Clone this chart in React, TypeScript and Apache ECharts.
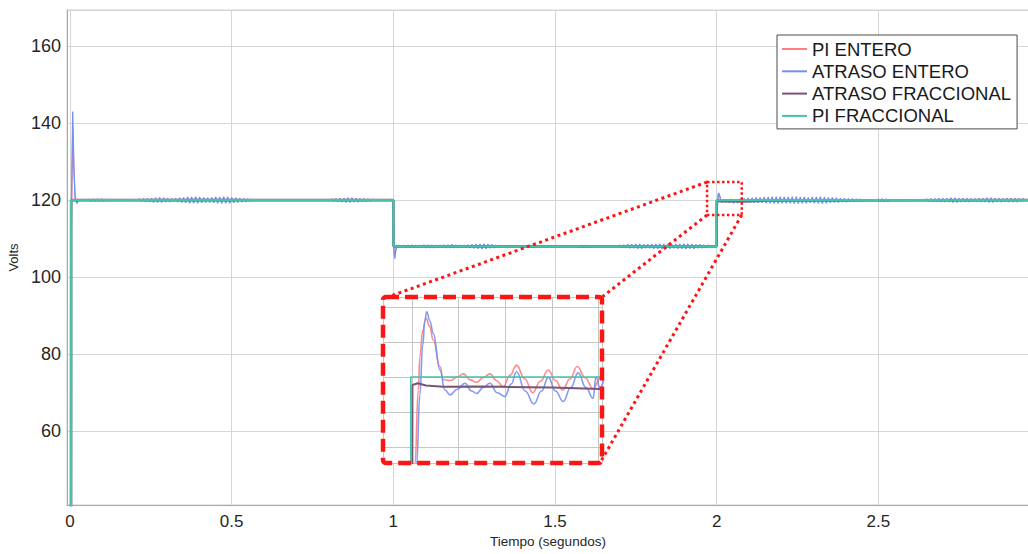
import React, { useEffect, useRef } from "react";
import * as echarts from "echarts";

// ---------- names & colours ----------
const seriesNames = ["PI ENTERO", "ATRASO ENTERO", "ATRASO FRACCIONAL", "PI FRACCIONAL"];
const seriesColors = ["#ff7d7d", "#7490f3", "#7a5476", "#45c3a8"];

// ---------- axis ranges / ticks ----------
const xRange = [-0.0093, 2.966];
const xTickStep = 0.5;
const yRange = [40.8, 169.4];
const yTickStep = 20;
const insetXRange = [1.9876, 2.0814];
const insetXStep = 0.02;
const insetYRange = [117.54, 122.29];
const insetYStep = 1;
// region of the main chart that the inset magnifies (t0, t1, vLow, vHigh)
const zoomBox = [1.9703, 2.0777, 116.15, 124.7];

// ---------- PI FRACCIONAL (green) ----------
const piFracData: number[][] = [
  [0.003, 0], [0.0035, 120], [1.0, 120], [1.0003, 108], [1.9994, 108], [1.9995, 120], [2.97, 120],
];

// ---------- ATRASO FRACCIONAL (purple) ----------
const atrasoFracData: number[][] = [
  [0.003, 0], [0.0035, 120], [1.0, 120], [1.0003, 108], [2.0001, 108], [2.0002, 119.77],
  [2.0025, 119.82], [2.006, 119.76], [2.0134, 119.72], [2.0277, 119.73], [2.0391, 119.72],
  [2.06, 119.7], [2.0805, 119.66], [2.16, 119.9], [2.97, 120],
];

// ---------- PI ENTERO (red) ----------
const piEnteroStart: number[][] = [
  [0.001, 0], [0.004, 112], [0.0085, 139], [0.012, 128], [0.016, 120.5], [0.021, 119.6], [0.026, 120],
];
const piEnteroDrop: number[][] = [
  [1.0, 120], [1.002, 107.2], [1.0045, 105.8], [1.008, 107.4], [1.013, 108], [2.0005, 108],
];
const piEnteroInset: number[][] = [
  [2.0013, 117.5], [2.0027, 119.63], [2.0034, 120.58], [2.0046, 121.34], [2.006, 121.68],
  [2.0076, 121.45], [2.0091, 121.06], [2.012, 120.3], [2.0134, 119.93], [2.0163, 119.9],
  [2.0195, 120.0], [2.022, 120.09], [2.025, 119.92], [2.0277, 119.85], [2.0305, 119.98],
  [2.0334, 120.09], [2.0362, 119.9], [2.0391, 119.72], [2.042, 120.05], [2.0448, 120.34],
  [2.0483, 119.95], [2.0517, 119.55], [2.055, 119.88], [2.0584, 120.2], [2.0615, 119.9],
  [2.0645, 119.63], [2.0677, 119.95], [2.0708, 120.3], [2.0742, 119.98], [2.0776, 119.66],
  [2.0805, 119.95], [2.09, 120], [2.97, 120],
];

// ---------- ATRASO ENTERO (blue) ----------
const atrasoEnteroStart: number[][] = [
  [0.001, 0], [0.004, 115], [0.0083, 143], [0.0115, 130], [0.0155, 121], [0.021, 119.1], [0.026, 120],
];
const atrasoEnteroDrop: number[][] = [
  [0.995, 120], [1.0, 120], [1.002, 106.5], [1.0045, 104.8], [1.008, 107.2], [1.013, 108], [1.9999, 108], [2.0008, 108],
];
const atrasoEnteroInset: number[][] = [
  [2.002, 117.5], [2.0034, 119.5], [2.0046, 120.9], [2.0055, 121.6], [2.0063, 121.87],
  [2.0077, 121.6], [2.0091, 121.25], [2.012, 120.2], [2.0141, 119.63], [2.0163, 119.49],
  [2.0195, 119.65], [2.0227, 119.82], [2.0255, 119.6], [2.0277, 119.53], [2.0305, 119.7],
  [2.0334, 119.82], [2.0365, 119.55], [2.0398, 119.44], [2.0425, 119.8], [2.0448, 120.15],
  [2.0485, 119.6], [2.0522, 119.23], [2.0555, 119.6], [2.0584, 119.99], [2.0615, 119.6],
  [2.0648, 119.3], [2.068, 119.7], [2.0712, 120.12], [2.0745, 119.7], [2.0776, 119.39],
  [2.0805, 119.7], [2.97, 120],
];
// ripple bursts of the blue trace: start time, level, and sampled deviations (tenths of a volt)
const rippleStep = 0.0062;
const rippleStarts = [0.06, 0.215, 0.81, 1.02, 1.41, 1.57, 1.7, 2.085, 2.5, 2.65];
const rippleLevels = [120, 120, 120, 108, 108, 108, 108, 120, 120, 120];
const ripple0 = [2, -3, 3, -3, 3, -2, 3, -3, 2, -2, 2];
const ripple1 = [3, -3, 4, -4, 5, -5, 5, -6, 6, -6, 7, -6, 6, -5, 5, -5, 4, -4, 5, -5, 6, -6, 7, -7, 8, -8, 8, -8, 9, -8, 8, -7, 7, -6, 6, -6, 7, -7, 8, -8, 8, -9, 9, -8, 8, -8, 7, -7, 6, -6, 5, -5, 4, -4, 3, -3, 2];
const ripple2 = [3, -3, 4, -4, 5, -5, 5, -6, 6, -6, 6, -5, 5, -5, 4, -4, 4, -3, 3, -3, 2];
const ripple3 = [2, -2, 3, -3, 3, -3, 4, -3, 3, -3, 3, -3, 4, -4, 4, -4, 4, -4, 3, -3, 3, -3, 4, -4, 4, -4, 5, -4, 4, -4, 3, -3, 3, -3, 4, -4, 5, -5, 6, -6, 6, -7, 7, -6, 6, -5, 5, -4, 3, -2];
const ripple4 = [2, -3, 3, -3, 3, -2, 2];
const ripple5 = [2, -3, 3, -3, 3, -3, 2, -2];
const ripple6 = [3, -3, 4, -4, 5, -5, 5, -5, 6, -6, 6, -6, 5, -5, 5, -5, 6, -6, 6, -7, 7, -7, 6, -6, 6, -6, 5, -5, 6, -6, 6, -6, 7, -7, 7, -6, 6, -6, 5, -5, 5, -5, 4, -4, 3];
const ripple7 = [5, -5, 6, -6, 6, -6, 7, -7, 7, -7, 8, -8, 8, -8, 9, -9, 9, -9, 9, -8, 8, -8, 8, -8, 9, -9, 9, -9, 8, -8, 8, -8, 7, -7, 8, -8, 8, -8, 9, -9, 8, -8, 7, -7, 7, -6, 6, -6, 5, -5, 5, -5, 4, -4, 4, -4, 3, -3, 3, -2];
const ripple8 = [3, -3, 4, -4, 3, -3, 2];
const ripple9 = [3, -3, 4, -4, 4, -4, 5, -5, 5, -5, 5, -5, 6, -6, 6, -6, 5, -5, 5, -5, 5, -5, 4, -4, 4, -4, 5, -5, 5, -5, 6, -6, 6, -6, 5, -5, 5, -5, 4, -4, 5, -5, 5, -5, 5, -5, 4, -4, 4];
const rippleDevs = [ripple0, ripple1, ripple2, ripple3, ripple4, ripple5, ripple6, ripple7, ripple8, ripple9];

// ---------- layout ----------
const W = 1028;
const H = 554;
const mainGrid = { left: 67, top: 10, width: 962, height: 495 };
const insetGrid = { left: 383, top: 297, width: 219, height: 166 };
const FONT = "'Liberation Sans', Arial, Helvetica, sans-serif";
const RED = "#ff1414";

function buildBlue(): number[][] {
  const pts: number[][] = [...atrasoEnteroStart, ...atrasoEnteroDrop, ...atrasoEnteroInset];
  rippleDevs.forEach((devs, k) => {
    const t0 = rippleStarts[k];
    const lvl = rippleLevels[k];
    pts.push([t0 - rippleStep, lvl]);
    devs.forEach((d, i) => pts.push([t0 + i * rippleStep, lvl + d / 10]));
    pts.push([t0 + devs.length * rippleStep, lvl]);
  });
  return pts.sort((a, b) => a[0] - b[0]);
}

function buildRed(): number[][] {
  return [...piEnteroStart, ...piEnteroDrop, ...piEnteroInset].sort((a, b) => a[0] - b[0]);
}

function multipleLabel(step: number) {
  return (v: number) => {
    const r = v / step;
    return Math.abs(r - Math.round(r)) < 1e-6 ? String(+v.toFixed(4)) : "";
  };
}

export default function App() {
  const ref = useRef<HTMLDivElement>(null);

  useEffect(() => {
    if (!ref.current) return;
    const chart = echarts.init(ref.current, null, { renderer: "svg" });
    const allData = [buildRed(), buildBlue(), atrasoFracData, piFracData];
    const mainWidths = [1.2, 1.3, 2.6, 2.3];
    const insetWidths = [1.6, 1.6, 2.0, 1.6];

    const mainSeries = allData.map((d, i) => ({
      name: seriesNames[i],
      type: "line",
      xAxisIndex: 0,
      yAxisIndex: 0,
      data: d,
      symbol: "none",
      showSymbol: false,
      lineStyle: { color: seriesColors[i], width: mainWidths[i] },
      itemStyle: { color: seriesColors[i] },
      emphasis: { disabled: true },
      z: 2,
    }));
    const insetSeries = allData.map((d, i) => ({
      name: seriesNames[i],
      type: "line",
      xAxisIndex: 1,
      yAxisIndex: 1,
      data: d,
      symbol: "none",
      showSymbol: false,
      clip: true,
      smooth: i < 2 ? 0.45 : false,
      smoothMonotone: "x",
      lineStyle: { color: seriesColors[i], width: insetWidths[i], opacity: i < 2 ? 0.9 : 1 },
      itemStyle: { color: seriesColors[i] },
      emphasis: { disabled: true },
      z: 5,
    }));

    chart.setOption({
      animation: false,
      textStyle: { fontFamily: FONT },
      grid: [
        {
          ...mainGrid,
          show: true,
          borderColor: "#cfcfcf",
          borderWidth: 1,
          backgroundColor: "#ffffff",
          outerBoundsMode: "none",
          containLabel: false,
          z: 0,
        },
        {
          ...insetGrid,
          show: true,
          borderWidth: 0,
          backgroundColor: "#ffffff",
          outerBoundsMode: "none",
          containLabel: false,
          z: 3,
        },
      ],
      xAxis: [
        {
          type: "value",
          gridIndex: 0,
          min: xRange[0],
          max: xRange[1],
          minInterval: xTickStep,
          maxInterval: xTickStep,
          axisLine: { show: true, onZero: false, lineStyle: { color: "#a8a8a8", width: 1 } },
          axisTick: { show: false },
          axisLabel: {
            formatter: multipleLabel(xTickStep),
            fontSize: 17,
            color: "#262626",
            margin: 8,
            fontFamily: FONT,
          },
          splitLine: { show: true, lineStyle: { color: "#d6d6d6", width: 1 } },
          name: "Tiempo (segundos)",
          nameLocation: "middle",
          nameGap: 29,
          nameTextStyle: { fontSize: 13.5, color: "#262626", fontFamily: FONT },
        },
        {
          type: "value",
          gridIndex: 1,
          min: insetXRange[0],
          max: insetXRange[1],
          minInterval: insetXStep,
          maxInterval: insetXStep,
          axisLine: { show: false },
          axisTick: { show: false },
          axisLabel: { show: false },
          splitLine: { show: true, lineStyle: { color: "#c6c6c6", width: 1 } },
          z: 4,
        },
      ],
      yAxis: [
        {
          type: "value",
          gridIndex: 0,
          min: yRange[0],
          max: yRange[1],
          minInterval: yTickStep,
          maxInterval: yTickStep,
          axisLine: { show: true, onZero: false, lineStyle: { color: "#a8a8a8", width: 1 } },
          axisTick: { show: false },
          axisLabel: {
            formatter: multipleLabel(yTickStep),
            fontSize: 18,
            color: "#262626",
            margin: 6,
            fontFamily: FONT,
          },
          splitLine: { show: true, lineStyle: { color: "#d6d6d6", width: 1 } },
          name: "Volts",
          nameLocation: "middle",
          nameGap: 42,
          nameTextStyle: { fontSize: 13, color: "#262626", fontFamily: FONT },
        },
        {
          type: "value",
          gridIndex: 1,
          min: insetYRange[0],
          max: insetYRange[1],
          minInterval: insetYStep,
          maxInterval: insetYStep,
          axisLine: { show: false },
          axisTick: { show: false },
          axisLabel: { show: false },
          splitLine: { show: true, lineStyle: { color: "#c6c6c6", width: 1 } },
          z: 4,
        },
      ],
      legend: {
        orient: "vertical",
        left: 777,
        top: 35,
        backgroundColor: "#ffffff",
        borderColor: "#4a4a4a",
        borderWidth: 1,
        borderRadius: 0,
        padding: [4, 6, 3, 4],
        itemWidth: 25,
        itemHeight: 12,
        itemGap: 2.3,
        selectedMode: false,
        itemStyle: { opacity: 0 },
        data: seriesNames,
        textStyle: { fontSize: 18.5, color: "#1a1a1a", lineHeight: 20, fontFamily: FONT },
        z: 20,
      },
      series: [...mainSeries, ...insetSeries],
    });

    const p0 = chart.convertToPixel({ gridIndex: 0 }, [zoomBox[0], zoomBox[3]]) as number[];
    const p1 = chart.convertToPixel({ gridIndex: 0 }, [zoomBox[1], zoomBox[2]]) as number[];
    const iL = insetGrid.left;
    const iT = insetGrid.top;
    const iR = insetGrid.left + insetGrid.width;
    const iB = insetGrid.top + insetGrid.height;
    const dotted = { stroke: RED, lineWidth: 3, lineDash: [3, 3.5], fill: "none" };

    chart.setOption({
      graphic: [
        {
          type: "rect",
          z: 50,
          shape: { x: p0[0], y: p0[1], width: p1[0] - p0[0], height: p1[1] - p0[1] },
          style: { stroke: RED, lineWidth: 2.5, lineDash: [2.5, 2.5], fill: "none" },
          silent: true,
        },
        { type: "line", z: 50, shape: { x1: p0[0], y1: p0[1], x2: iL + 5, y2: iT }, style: dotted, silent: true },
        { type: "line", z: 50, shape: { x1: p0[0], y1: p1[1], x2: iR, y2: iT }, style: dotted, silent: true },
        { type: "line", z: 50, shape: { x1: p1[0], y1: p1[1], x2: iR - 2, y2: iB }, style: dotted, silent: true },
        {
          type: "rect",
          z: 50,
          shape: { x: iL, y: iT, width: insetGrid.width, height: insetGrid.height, r: 3 },
          style: { stroke: RED, lineWidth: 4.5, lineDash: [13, 6], fill: "none" },
          silent: true,
        },
      ],
    });

    return () => chart.dispose();
  }, []);

  return (
    <div
      ref={ref}
      style={{ position: "absolute", left: 0, top: 0, width: W, height: H, background: "#fff" }}
    />
  );
}
